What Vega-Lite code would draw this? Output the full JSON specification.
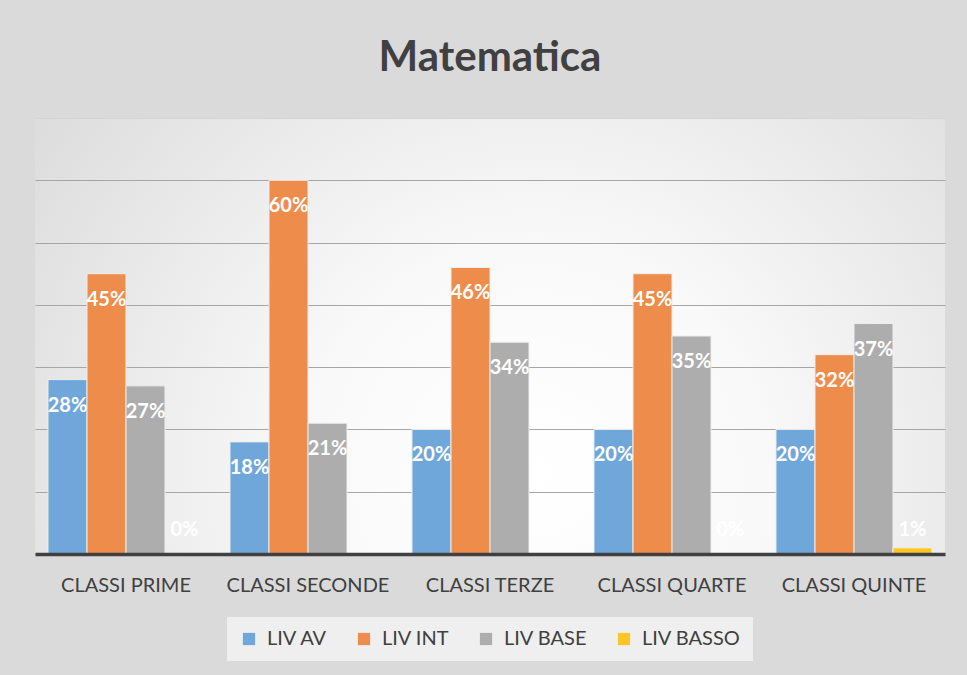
{
  "$schema": "https://vega.github.io/schema/vega-lite/v6.json",
  "width": 910,
  "height": 436,
  "autosize": {"type": "none"},
  "padding": {"left": 35, "top": 118, "right": 22, "bottom": 121},
  "background": "#dadada",
  "title": {"text": "Matematica", "fontSize": 42, "font": "Lato", "fontWeight": "bold", "color": "#404040", "offset": 38, "anchor": "middle"},
  "data": {"values": [
    {"classe": "CLASSI PRIME", "livello": "LIV AV", "valore": 0.28},
    {"classe": "CLASSI PRIME", "livello": "LIV INT", "valore": 0.45},
    {"classe": "CLASSI PRIME", "livello": "LIV BASE", "valore": 0.27},
    {"classe": "CLASSI PRIME", "livello": "LIV BASSO", "valore": 0.0},
    {"classe": "CLASSI SECONDE", "livello": "LIV AV", "valore": 0.18},
    {"classe": "CLASSI SECONDE", "livello": "LIV INT", "valore": 0.60},
    {"classe": "CLASSI SECONDE", "livello": "LIV BASE", "valore": 0.21},
    {"classe": "CLASSI TERZE", "livello": "LIV AV", "valore": 0.20},
    {"classe": "CLASSI TERZE", "livello": "LIV INT", "valore": 0.46},
    {"classe": "CLASSI TERZE", "livello": "LIV BASE", "valore": 0.34},
    {"classe": "CLASSI QUARTE", "livello": "LIV AV", "valore": 0.20},
    {"classe": "CLASSI QUARTE", "livello": "LIV INT", "valore": 0.45},
    {"classe": "CLASSI QUARTE", "livello": "LIV BASE", "valore": 0.35},
    {"classe": "CLASSI QUARTE", "livello": "LIV BASSO", "valore": 0.0},
    {"classe": "CLASSI QUINTE", "livello": "LIV AV", "valore": 0.20},
    {"classe": "CLASSI QUINTE", "livello": "LIV INT", "valore": 0.32},
    {"classe": "CLASSI QUINTE", "livello": "LIV BASE", "valore": 0.37},
    {"classe": "CLASSI QUINTE", "livello": "LIV BASSO", "valore": 0.01}
  ]},
  "encoding": {
    "x": {
      "field": "classe", "type": "nominal",
      "sort": ["CLASSI PRIME", "CLASSI SECONDE", "CLASSI TERZE", "CLASSI QUARTE", "CLASSI QUINTE"],
      "scale": {"paddingInner": 0, "paddingOuter": 0},
      "axis": {"title": null, "labelAngle": 0, "labelFontSize": 20, "labelFont": "Lato", "labelColor": "#404040", "ticks": false, "domainColor": "#404040", "domainWidth": 3.5, "labelPadding": 21, "zindex": 1}
    },
    "xOffset": {
      "field": "livello", "type": "nominal",
      "scale": {"domain": ["LIV AV", "LIV INT", "LIV BASE", "LIV BASSO"], "paddingInner": 0, "paddingOuter": 0.333}
    },
    "y": {
      "field": "valore", "type": "quantitative",
      "scale": {"domain": [0, 0.7], "nice": false},
      "axis": {"title": null, "labels": false, "ticks": false, "domain": false, "values": [0.1, 0.2, 0.3, 0.4, 0.5, 0.6, 0.7],
        "gridColor": {"condition": {"test": "datum.value >= 0.69", "value": "#d4d4d4"}, "value": "#a6a6a6"}, "gridWidth": 1}
    }
  },
  "layer": [
    {
      "mark": {"type": "bar", "strokeWidth": 1},
      "encoding": {
        "color": {
          "field": "livello", "type": "nominal",
          "scale": {"domain": ["LIV AV", "LIV INT", "LIV BASE", "LIV BASSO"], "range": ["#6fa7da", "#ee8c4c", "#adadad", "#fdc626"]},
          "legend": {"title": null, "orient": "bottom", "direction": "horizontal", "symbolType": "square", "symbolSize": 150, "symbolStrokeWidth": 0, "labelFontSize": 20, "labelFont": "Lato", "labelColor": "#404040", "fillColor": "#efefef", "padding": 12, "columnPadding": 26, "labelOffset": 8, "offset": 22}
        },
        "stroke": {"condition": {"test": "datum.valore > 0", "value": "#eeeeee"}, "value": null}
      }
    },
    {
      "transform": [{"filter": "datum.valore >= 0.05"}],
      "mark": {"type": "text", "dy": 26, "baseline": "middle", "color": "white", "fontWeight": "bold", "fontSize": 20, "font": "Lato"},
      "encoding": {"text": {"field": "valore", "type": "quantitative", "format": ".0%"}}
    },
    {
      "transform": [{"filter": "datum.valore < 0.05"}],
      "mark": {"type": "text", "dy": -24, "baseline": "middle", "color": "white", "fontWeight": "bold", "fontSize": 20, "font": "Lato"},
      "encoding": {"y": {"datum": 0}, "text": {"field": "valore", "type": "quantitative", "format": ".0%"}}
    }
  ],
  "config": {
    "legend": {"layout": {"anchor": "middle"}},
    "view": {
      "stroke": null,
      "fill": {"gradient": "radial", "x1": 0.55, "y1": 0.65, "r1": 0, "x2": 0.55, "y2": 0.65, "r2": 1.0,
        "stops": [{"offset": 0, "color": "#ffffff"}, {"offset": 0.25, "color": "#f9f9f9"}, {"offset": 1, "color": "#c6c6c6"}]}
    }
  }
}
